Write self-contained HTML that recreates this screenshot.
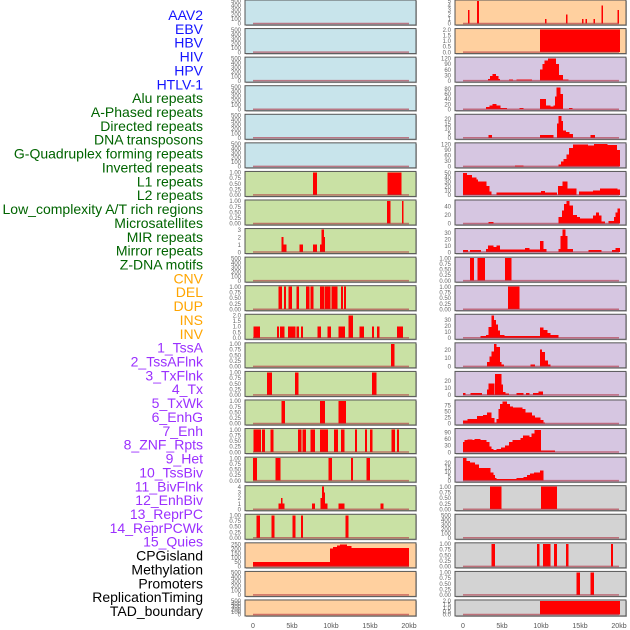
<!DOCTYPE html>
<html><head><meta charset="utf-8"><style>
body{margin:0;background:#fff;width:630px;height:630px;overflow:hidden}
svg{display:block;font-family:"Liberation Sans",sans-serif}
</style></head><body>
<svg id="chart" width="630" height="630" viewBox="0 0 630 630"></svg>
<script>
const labels=["AAV2","EBV","HBV","HIV","HPV","HTLV-1","Alu repeats","A-Phased repeats","Directed repeats","DNA transposons","G-Quadruplex forming repeats","Inverted repeats","L1 repeats","L2 repeats","Low_complexity A/T rich regions","Microsatellites","MIR repeats","Mirror repeats","Z-DNA motifs","CNV","DEL","DUP","INS","INV","1_TssA","2_TssAFlnk","3_TxFlnk","4_Tx","5_TxWk","6_EnhG","7_Enh","8_ZNF_Rpts","9_Het","10_TssBiv","11_BivFlnk","12_EnhBiv","13_ReprPC","14_ReprPCWk","15_Quies","CPGisland","Methylation","Promoters","ReplicationTiming","TAD_boundary"];
const labelGroups=["v","v","v","v","v","v","r","r","r","r","r","r","r","r","r","r","r","r","r","c","c","c","c","c","s","s","s","s","s","s","s","s","s","s","s","s","s","s","s","o","o","o","o","o"];
const T500=["0","100","200","300","400","500"],TB=["0.00","0.25","0.50","0.75","1.00"];
const yMaxes=[500,500,500,500,500,500,1,1,3,500,1,2,1,1,1,1,1,4,1,255,500,500,
 5,2,122,88,24,122,51,52,35,1,1,38,27,32,92,103,25,1,500,1,1,2];
const tickLists=[T500,T500,T500,T500,T500,T500,TB,TB,["0","1","2","3"],T500,TB,["0.0","0.5","1.0","1.5","2.0"],TB,TB,TB,TB,TB,["0","1","2","3","4"],TB,["0","50","100","150","200","250"],T500,T500,
 ["0","1","2","3","4","5"],["0.0","0.5","1.0","1.5","2.0"],["0","30","60","90","120"],["0","20","40","60","80"],["0","5","10","15","20"],["0","30","60","90","120"],["0","10","20","30","40","50"],["0","20","40"],["0","10","20","30"],TB,TB,["0","10","20","30"],["0","10","20"],["0","10","20"],["0","25","50","75"],["0","30","60","90"],["0","5","10","15","20"],TB,T500,TB,TB,["0.0","0.5","1.0","1.5","2.0"]];
// segments: [startKb, endKb, value]
const segments=[[],[],[],[],[],[],
 [[7.7,8.2,1],[17.3,19.0,1]],
 [[17.2,17.6,1],[19.1,19.3,1]],
 [[3.7,3.9,2],[3.9,4.3,1],[6.0,6.4,1],[7.7,8.2,1],[8.6,8.8,1],[8.8,9.05,3],[9.05,9.2,2]],
 [],
 [[3.3,3.7,1],[4.0,4.2,1],[4.6,5.0,1],[5.6,5.9,1],[6.8,7.2,1],[7.4,7.7,1],[8.6,9.1,1],[9.2,9.9,1],[10.1,10.8,1],[11.3,11.5,1],[11.7,11.9,1]],
 [[0.1,0.9,1],[3.1,3.3,1],[3.5,4.0,1],[4.5,5.4,1],[5.6,5.9,1],[6.2,6.4,1],[8.3,8.7,1],[9.6,10.0,1],[11.0,11.8,1],[12.3,12.8,2],[13.7,14.2,1],[15.3,15.5,1],[15.9,16.2,1],[18.5,19.2,1]],
 [[17.7,18.1,1]],
 [[1.8,2.4,1],[5.4,5.8,1],[15.3,15.8,1]],
 [[3.7,4.1,1],[8.6,9.2,1],[11.0,11.9,1]],
 [[0.1,1.0,1],[1.2,1.5,1],[2.3,2.6,1],[5.8,6.2,1],[6.4,6.8,1],[7.4,7.9,1],[8.6,9.6,1],[10.4,10.9,1],[11.3,11.7,1],[13.1,13.3,1],[14.4,14.6,1],[15.0,15.3,1],[17.8,18.2,1],[18.5,18.7,1]],
 [[0.0,0.5,1],[2.9,3.5,1],[9.7,10.1,1],[12.6,12.8,1],[14.6,15.0,1]],
 [[3.3,3.6,1],[3.6,3.75,2],[3.75,4.0,1],[7.6,7.9,1],[8.7,8.9,2],[8.9,9.05,4],[9.05,9.2,3],[9.2,9.5,1],[11.0,11.7,1],[16.4,16.7,1]],
 [[0.5,0.9,1],[2.4,2.7,1],[5.1,5.4,1],[6.2,6.4,1],[11.9,12.2,1]],
 [[0,9.9,50],[9.9,10.3,200],[10.3,10.8,220],[10.8,11.2,235],[11.2,12.0,245],[12.0,12.6,230],[12.6,15.5,210],[15.5,20,205]],
 [],[],
 [[0.65,0.8,3],[1.85,2.0,5],[10.55,10.7,1],[13.25,13.4,2],[15.25,15.4,1],[15.75,15.9,1],[16.75,16.9,1],[17.75,17.9,4],[19.85,20.0,3]],
 [[9.9,20.1,2]],
 [[3.2,3.5,10],[3.5,3.8,25],[3.8,4.2,35],[4.2,4.5,25],[4.5,4.7,10],[5.9,6.4,5],[6.9,8.8,5],[9.9,10.2,60],[10.2,10.5,90],[10.5,10.9,110],[10.9,11.9,120],[11.9,12.3,90],[12.3,12.8,30],[12.8,13.5,5]],
 [[3.0,3.4,8],[3.4,3.8,15],[3.8,4.3,20],[4.3,4.8,15],[4.8,5.6,5],[7.3,7.7,5],[9.9,10.6,40],[10.6,11.2,15],[11.2,11.6,10],[11.6,11.8,15],[11.8,12.0,50],[12.0,12.5,85],[12.5,12.8,60],[13.6,14.0,5]],
 [[3.3,3.7,3],[9.9,11.6,3],[12.1,12.3,15],[12.3,12.6,23],[12.6,12.8,18],[12.8,13.2,8],[13.2,13.6,6],[13.6,14.1,4],[16.4,16.9,3]],
 [[6.7,7.7,5],[12.3,12.6,10],[12.6,12.9,25],[12.9,13.3,40],[13.3,13.6,65],[13.6,14.1,100],[14.1,16.0,118],[16.0,16.8,112],[16.8,18.5,120],[18.5,19.7,115],[19.7,20.1,90]],
 [[0,0.5,50],[0.5,1.1,45],[1.1,1.7,40],[1.7,1.9,35],[1.9,3.0,30],[3.0,3.4,20],[3.4,3.6,8],[4.3,10.0,6],[10.0,10.5,9],[10.5,12.0,6],[12.2,12.8,20],[12.8,13.4,30],[13.4,14.5,15],[14.9,16.7,8],[16.7,17.6,10],[17.6,19.8,15],[19.8,20.1,12]],
 [[3.3,3.9,4],[12.3,12.7,15],[12.7,13.0,30],[13.0,13.3,45],[13.3,13.6,52],[13.6,14.1,42],[14.1,14.6,20],[14.6,15.0,15],[15.0,16.7,12],[16.7,17.1,18],[17.1,17.4,25],[17.4,17.7,18],[17.7,18.2,5],[18.7,19.4,6],[19.4,19.6,15],[19.6,19.85,25],[19.85,20.1,35]],
 [[0,0.6,3],[0.9,2.3,3],[3.0,3.2,5],[3.2,3.9,10],[3.9,4.3,8],[4.3,4.7,10],[4.7,8.0,4],[8.0,8.5,6],[8.5,9.9,4],[9.9,10.3,17],[10.3,10.7,5],[12.3,12.5,5],[12.5,12.8,25],[12.8,13.1,35],[13.1,13.4,25],[13.4,14.1,5],[16.1,17.7,3],[19.1,19.6,3],[19.6,20.1,6]],
 [[0.9,1.4,1],[1.9,2.8,1],[5.4,6.2,1]],
 [[5.8,7.2,1]],
 [[2.3,3.0,3],[3.0,3.3,5],[3.3,3.7,18],[3.7,3.95,38],[3.95,4.2,30],[4.2,4.45,22],[4.45,4.7,12],[4.7,5.3,5],[5.3,9.9,3],[9.9,10.3,17],[10.3,10.8,13],[10.8,11.2,8],[11.2,12.2,5]],
 [[3.1,3.4,5],[3.4,3.7,12],[3.7,4.0,18],[4.0,4.3,27],[4.3,4.7,23],[4.7,4.9,5],[4.9,5.2,2],[8.7,9.2,2],[9.9,10.1,20],[10.1,10.5,17],[10.5,10.9,7],[10.9,11.2,2]],
 [[0,0.3,3],[1.0,2.4,3],[3.1,3.3,8],[3.3,4.0,16],[4.1,4.9,30],[4.9,5.1,15],[5.1,5.4,4],[5.4,5.9,2],[6.9,7.7,3],[8.1,8.5,3],[9.0,9.7,3],[9.7,10.2,5]],
 [[0,0.6,12],[0.6,1.8,18],[1.8,2.6,30],[2.6,3.1,35],[3.1,3.6,45],[3.6,4.0,22],[4.0,4.3,5],[4.3,4.6,18],[4.6,4.8,60],[4.8,5.1,80],[5.1,5.6,90],[5.6,6.0,80],[6.0,6.4,70],[6.4,7.6,65],[7.6,8.0,60],[8.0,8.8,45],[8.8,9.2,33],[9.2,9.9,25],[9.9,10.3,15],[10.3,10.5,5]],
 [[0,0.2,45],[0.2,0.6,55],[0.6,1.2,58],[1.2,1.5,55],[1.5,2.2,60],[2.2,3.0,55],[3.0,3.4,45],[3.4,3.6,25],[3.6,3.9,15],[3.9,4.3,10],[4.3,4.9,15],[4.9,5.4,20],[5.4,5.9,30],[5.9,6.4,45],[6.4,7.4,55],[7.4,7.7,65],[7.7,8.5,75],[8.5,8.8,70],[8.8,9.2,85],[9.2,10.0,100],[10.0,11.8,8]],
 [[0,0.4,25],[0.4,0.9,22],[0.9,1.5,20],[1.5,2.0,18],[2.0,3.5,14],[3.5,3.9,9],[3.9,4.1,6],[4.1,4.3,3],[4.3,6.9,2],[6.9,7.8,3],[7.8,8.2,4],[8.2,8.6,6],[8.6,9.1,8],[9.1,9.9,9],[9.9,10.3,11]],
 [[3.5,4.9,1],[10.0,12.0,1]],
 [],
 [[3.7,4.1,1],[9.5,9.8,1],[10.3,11.2,1],[11.7,12.0,1],[13.2,13.5,1],[19.0,19.2,1]],
 [[14.6,15.0,1],[16.4,16.8,1]],
 [[9.9,20.1,2]]];
const xTickLabels=["0","5kb","10kb","15kb","20kb"];
const xTickKb=[0,5,10,15,20];

const NS="http://www.w3.org/2000/svg";
const svg=document.getElementById('chart');
function mk(tag,attrs,parent){const e=document.createElementNS(NS,tag);for(const k in attrs)e.setAttribute(k,attrs[k]);(parent||svg).appendChild(e);return e;}
const groupColor={v:"#1414ff",r:"#006400",c:"#ffa500",s:"#9b30ff",o:"#000"};
const bgColor=["#c8e4eb","#c9e1a4","#ffd09f","#d6c6e1","#d3d3d3"];
function bgFor(i){const col=i<22?0:1,r=i%22;
 if(col===0){if(r<6)return bgColor[0];if(r<19)return bgColor[1];return bgColor[2];}
 if(r<2)return bgColor[2];if(r<17)return bgColor[3];return bgColor[4];}

labels.forEach((t,i)=>{
 const y=15+i*(596/43);
 const tx=mk('text',{x:203,y:y+5,'text-anchor':'end','font-size':14,fill:groupColor[labelGroups[i]]});
 
 
 tx.textContent=t;
});

function xScale(col,kb){const x0=col===0?253:463;return x0+kb*7.8;}
for(let i=0;i<44;i++){
 const col=i<22?0:1,r=i%22;
 const left=col===0?245:455,w=171;
 const top=r*28.57,h=r===21?16:25;
 const g=mk('g',{});
 
 
 mk('rect',{x:left+1,y:top+1,width:w,height:h,fill:'#bbb'},g);
 mk('rect',{x:left,y:top,width:w,height:h,fill:bgFor(i),stroke:'#555',"stroke-width":1},g);
 const yb=top+h-1.5,yt=top+1,ym=yMaxes[i];
 const yS=v=>yb-(v/ym)*(yb-yt);
 segments[i].forEach(s=>{
  const x1=xScale(col,s[0]),x2=xScale(col,s[1]);
  const b=mk('rect',{x:x1-0.2,y:yS(s[2]),width:Math.max(1,x2-x1)+0.4,height:yb-yS(s[2]),fill:'#ff0000','shape-rendering':'crispEdges'},g);
  
  
 });
 mk('line',{x1:xScale(col,0),x2:xScale(col,20),y1:yb,y2:yb,stroke:'#b03040','stroke-width':1.5,opacity:0.6},g);
 const ticks=tickLists[i],n=ticks.length;
 ticks.forEach((t,k)=>{
  const frac=(ym===500||ym===1||ym===2||ym===3||ym===4||ym===5)?1:(parseFloat(ticks[n-1])/ym);
  const yy=yb-(k/(n-1))*(yb-yt)*frac;
  const tl=mk('text',{x:left-4,y:yy+2.2,'text-anchor':'end','font-size':6,fill:'#666'},g);
  
  
  tl.textContent=t;
 });
}
[0,1].forEach(col=>{
 xTickKb.forEach((kb,k)=>{
  const t=mk('text',{x:xScale(col,kb),y:628,'text-anchor':'middle','font-size':7,fill:'#555'});
  
  
  t.textContent=xTickLabels[k];
 });
});
</script>
</body></html>
